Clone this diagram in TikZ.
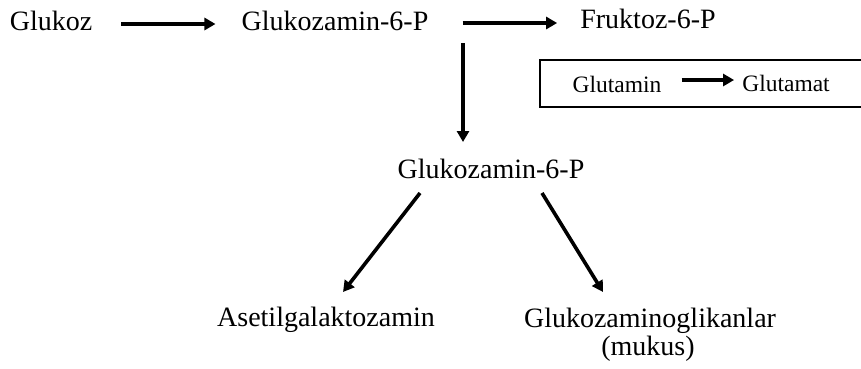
\documentclass[tikz,border=0pt]{standalone}
\usepackage{fontspec}
\setmainfont{Liberation Serif}
\usetikzlibrary{arrows.meta}
\begin{document}
\begin{tikzpicture}[x=1pt,y=-1pt,
  lbl/.style={inner sep=0pt,anchor=base,font=\fontsize{28}{32}\selectfont},
  small/.style={inner sep=0pt,anchor=base,font=\fontsize{23.5}{27}\selectfont},
  arr/.style={line width=3.6pt,-{Triangle[length=11pt,width=12pt]}}]
\useasboundingbox (0,0) rectangle (861,368);
\node[lbl] (g) at (51,30) {Glukoz};
\node[lbl] (gz) at (335,30) {Glukozamin-6-P};
\node[lbl] (fr) at (648,28) {Fruktoz-6-P};
\node[lbl] (gm) at (491,178) {Glukozamin-6-P};
\node[lbl] (as) at (326,326) {Asetilgalaktozamin};
\node[lbl] (gl) at (650,327) {Glukozaminoglikanlar};
\node[lbl] (mu) at (648,355) {(mukus)};
\node[small] (gt) at (617,92) {Glutamin};
\node[small] (ga) at (786,91) {Glutamat};
\draw[line width=1.4pt] (862,60) -- (540,60) -- (540,107) -- (862,107);
\draw[arr] ([shift={(29pt,6pt)}]g.base east) -- ([shift={(-26pt,6pt)}]gz.base west);
\draw[arr] ([shift={(34pt,7pt)}]gz.base east) -- ([shift={(-23pt,5pt)}]fr.base west);
\draw[arr] ([shift={(128pt,-13pt)}]gz.base) -- ([shift={(-28pt,36pt)}]gm.base);
\draw[arr] ([shift={(-71pt,-15pt)}]gm.base) -- ([shift={(17pt,34pt)}]as.base);
\draw[arr] ([shift={(51pt,-15pt)}]gm.base) -- ([shift={(-47pt,35pt)}]gl.base);
\draw[arr] ([shift={(20pt,12pt)}]gt.base east) -- ([shift={(-8pt,11pt)}]ga.base west);
\end{tikzpicture}
\end{document}
